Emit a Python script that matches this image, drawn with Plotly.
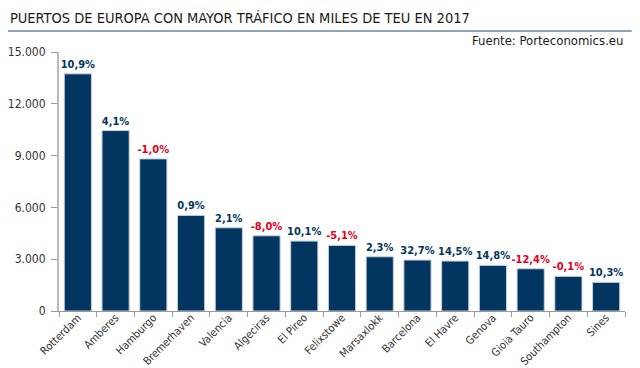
import plotly.graph_objects as go

ports = ["Rotterdam", "Amberes", "Hamburgo", "Bremerhaven", "Valencia", "Algeciras",
         "El Pireo", "Felixstowe", "Marsaxlokk", "Barcelona", "El Havre", "Genova",
         "Gioia Tauro", "Southampton", "Sines"]
teu_thousands = [13734, 10451, 8810, 5535, 4818, 4355, 4049, 3800, 3140, 2950, 2892,
                 2643, 2447, 2007, 1660]
growth_labels = ["10,9%", "4,1%", "-1,0%", "0,9%", "2,1%", "-8,0%", "10,1%", "-5,1%",
                 "2,3%", "32,7%", "14,5%", "14,8%", "-12,4%", "-0,1%", "10,3%"]
y_tickvals = [0, 3000, 6000, 9000, 12000, 15000]
y_ticktext = ["0", "3.000", "6.000", "9.000", "12.000", "15.000"]

NAVY = "#023660"
RED = "#e2001a"
label_colors = [RED if s.startswith("-") else NAVY for s in growth_labels]

FONT = "DejaVu Sans Condensed, Roboto, sans-serif"

fig = go.Figure(go.Bar(
    x=ports, y=teu_thousands,
    marker=dict(color=NAVY, line=dict(color="#c5d0dc", width=1)),
    text=growth_labels, textposition="outside", cliponaxis=False,
    constraintext="none",
    textfont=dict(color=label_colors, size=11, family=FONT, weight="bold"),
    hoverinfo="x+y",
))

fig.update_layout(
    width=640, height=368,
    margin=dict(l=59, r=15, t=52, b=57),
    paper_bgcolor="white", plot_bgcolor="white",
    bargap=0.28,
    showlegend=False,
    font=dict(family=FONT, color="#333333"),
    title=dict(text="PUERTOS DE EUROPA CON MAYOR TRÁFICO EN MILES DE TEU EN 2017",
               x=0.0155, xanchor="left", y=0.951, yanchor="middle",
               font=dict(size=14.5, family=FONT, color="#1a1a1a")),
    shapes=[dict(type="line", xref="paper", yref="paper",
                 x0=-0.09, x1=1.012, y0=1.081, y1=1.081,
                 line=dict(color="#8fa2b8", width=2))],
    annotations=[dict(text="Fuente: Porteconomics.eu", xref="paper", yref="paper",
                      x=1.0, y=1.008, xanchor="right", yanchor="bottom",
                      showarrow=False, font=dict(size=13, family=FONT, color="#1a1a1a"))],
)

fig.update_xaxes(
    automargin=False,
    showline=True, linecolor="#9a9a9a", linewidth=1,
    ticks="outside", tickson="boundaries", ticklen=5, tickcolor="#9a9a9a",
    ticklabelstandoff=-5,
    tickangle=-45, tickfont=dict(size=11, family=FONT, color="#333333"),
    showgrid=False,
)
fig.update_yaxes(
    automargin=False,
    range=[0, 15000], tickvals=y_tickvals, ticktext=y_ticktext,
    showline=True, linecolor="#bbbbbb", linewidth=2,
    ticks="outside", ticklen=6, tickcolor="#9a9a9a",
    ticklabelstandoff=3,
    tickfont=dict(size=12, family=FONT, color="#333333"),
    showgrid=False, zeroline=False,
)

fig.write_html("out.html", config={"displayModeBar": False},
               post_script="document.body.style.margin='0';")
